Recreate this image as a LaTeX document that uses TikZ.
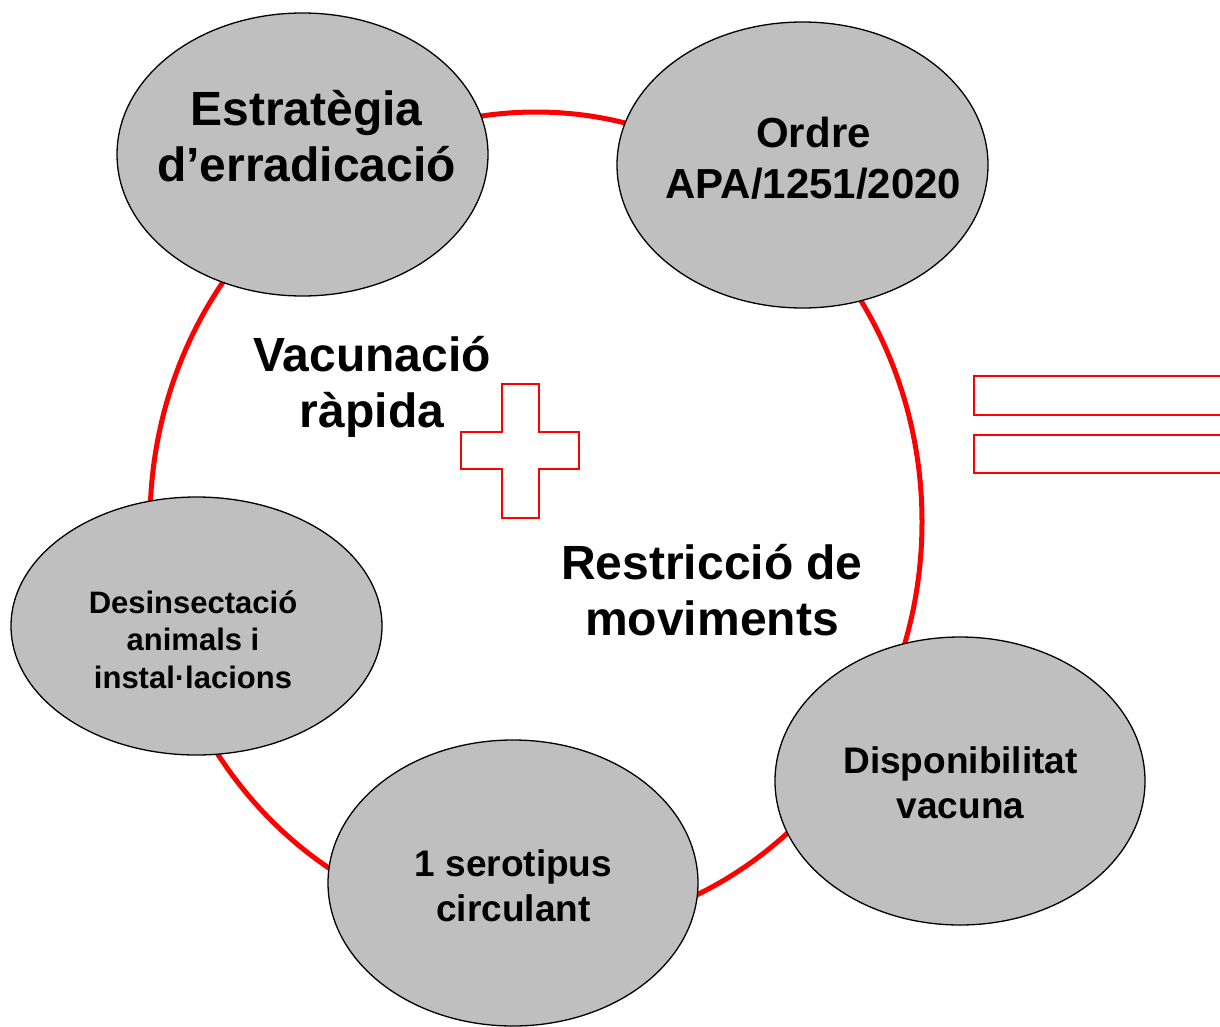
\documentclass[tikz,border=0pt]{standalone}
\usepackage{fontspec}
\setmainfont{Liberation Sans}
\usetikzlibrary{shapes.geometric}
\definecolor{bubblegray}{RGB}{191,191,191}
\definecolor{ringred}{RGB}{255,0,0}
\begin{document}
\begin{tikzpicture}[x=1pt,y=-1pt,
  bubble/.style={ellipse, draw=black, line width=1.3pt, fill=bubblegray, inner sep=0pt},
  ringstyle/.style={ellipse, draw=ringred, line width=5pt, inner sep=0pt},
  symbolstyle/.style={draw=ringred, line width=2pt},
  bigtxt/.style={font=\fontsize{48}{56}\selectfont\bfseries, align=center, inner sep=0pt, anchor=base},
  midtxt/.style={font=\fontsize{42}{51}\selectfont\bfseries, align=center, inner sep=0pt, anchor=base},
  smalltxt/.style={font=\fontsize{37}{45}\selectfont\bfseries, align=center, inner sep=0pt, anchor=base},
  tinytxt/.style={font=\fontsize{31}{37.5}\selectfont\bfseries, align=center, inner sep=0pt, anchor=base}
]
\useasboundingbox (0,0) rectangle (1220,1027);
\fill[white] (0,0) rectangle (1220,1027);

% ring
\node[ringstyle, minimum width=772pt, minimum height=820pt] (ring) at (536,522) {};

% bubbles
\node[bubble, minimum width=371pt, minimum height=283pt] (estr) at (302.5,154.5) {};
\node[bubble, minimum width=371pt, minimum height=286pt] (ordre) at (802.5,165) {};
\node[bubble, minimum width=371pt, minimum height=258pt] (desin) at (196.5,626) {};
\node[bubble, minimum width=370pt, minimum height=286pt] (sero) at (513,883) {};
\node[bubble, minimum width=370pt, minimum height=288pt] (dispo) at (960,781) {};

% plus sign
\draw[symbolstyle] (501.7,384.3) -- (539.3,384.3) -- (539.3,432.3) -- (579.3,432.3)
  -- (579.3,469.3) -- (539.3,469.3) -- (539.3,517.7) -- (501.7,517.7)
  -- (501.7,469.3) -- (460.7,469.3) -- (460.7,432.3) -- (501.7,432.3) -- cycle;

% equals sign
\draw[symbolstyle] (1226,375.7) -- (974.3,375.7) -- (974.3,415) -- (1226,415);
\draw[symbolstyle] (1226,435) -- (974.3,435) -- (974.3,473.3) -- (1226,473.3);

% texts (anchor = baseline of last line)
\node[bigtxt] (testr) at (306.5,182) {Estratègia\\d’erradicació};
\node[midtxt] (tordre) at (813.5,198) {Ordre\\APA/1251/2020};
\node[bigtxt] (tvac) at (372,427) {Vacunació\\ràpida};
\node[bigtxt] (trestr) at (712,635) {Restricció de\\moviments};
\node[tinytxt] (tdesin) at (193,688) {Desinsectació\\animals i\\instal·lacions};
\node[smalltxt] (tdispo) at (960.5,818) {Disponibilitat\\vacuna};
\node[smalltxt] (tsero) at (513.5,921) {1 serotipus\\circulant};
\end{tikzpicture}
\end{document}
